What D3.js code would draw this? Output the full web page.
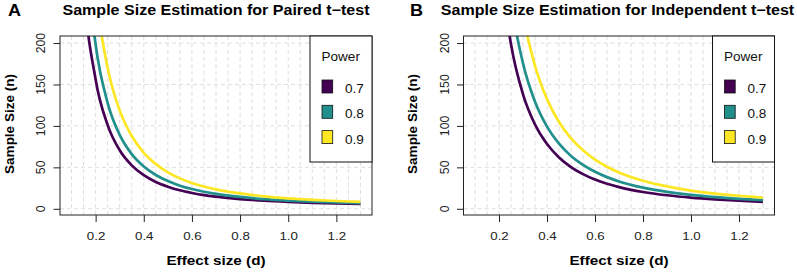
<!DOCTYPE html>
<html>
<head>
  <meta charset="UTF-8">
  <title>Sample size estimation</title>
  <script src="https://d3js.org/d3.v7.min.js"></script>
  <style>
    body { margin: 0; background: white; }
    svg { display: block; font-family: "Liberation Sans", Arial, Helvetica, sans-serif; }
  </style>
</head>
<body>
<svg id="chart"></svg>
<script>
  // values
  let effectSizes = [0.10, 0.15, 0.20, 0.25, 0.30, 0.35, 0.40, 0.45, 0.50, 0.55, 0.60, 0.65, 0.70, 0.80, 0.90, 1.00, 1.10, 1.20, 1.30];
  let powerLevels = ["0.7", "0.8", "0.9"];
  let powerColors = ["#440154", "#21908C", "#FDE725"];

  let pairedN07 = [619, 276, 156, 101, 70.6, 52.4, 40.5, 32.4, 26.7, 22.3, 19.1, 16.5, 14.6, 11.7, 9.7, 8.3, 7.2, 6.4, 5.8];
  let pairedN08 = [787, 351, 198.2, 127.6, 89.1, 65.9, 51.0, 40.8, 33.4, 27.9, 23.8, 20.6, 18.0, 14.3, 11.7, 9.9, 8.6, 7.6, 6.8];
  let pairedN09 = [1053, 469, 264.6, 170, 118.7, 87.8, 67.6, 53.9, 44.0, 36.7, 31.2, 26.9, 23.4, 18.5, 15.0, 12.6, 10.8, 9.4, 8.4];

  let indepN07 = [1235, 550, 309.6, 198.5, 138.1, 101.7, 78.1, 62.0, 50.4, 41.8, 35.2, 30.2, 26.2, 20.3, 16.3, 13.4, 11.3, 9.7, 8.4];
  let indepN08 = [1571, 699, 393.4, 252.1, 175.4, 129.1, 99.1, 78.5, 63.8, 52.9, 44.6, 38.2, 33.0, 25.5, 20.4, 16.7, 14.0, 12.0, 10.4];
  let indepN09 = [2103, 935, 526.3, 337.2, 234.5, 172.5, 132.3, 104.8, 85.0, 70.5, 59.3, 50.7, 43.8, 33.8, 27.0, 22.0, 18.4, 15.7, 13.5];

  let xTicks = [0.2, 0.4, 0.6, 0.8, 1.0, 1.2];
  let yTicks = [0, 50, 100, 150, 200];
  let xGrid = d3.range(0.1, 1.3001, 0.05);

  let width = 797, height = 272;
  let sx = 1.13; // text in the picture is a bit wider than it is tall

  let svg = d3.select("#chart").attr("width", width).attr("height", height);

  function drawPanel(opts) {
    let left = opts.left, right = opts.right, top = 36, bottom = 215;
    let x = d3.scaleLinear().domain([0.052, 1.348]).range([left, right]);
    let y = d3.scaleLinear().domain([-7.5, 208.5]).range([bottom, top]);
    let g = svg.append("g");

    // grid
    g.selectAll(".vgrid").data(xGrid).join("line")
      .attr("x1", d => x(d)).attr("x2", d => x(d))
      .attr("y1", top).attr("y2", bottom)
      .attr("stroke", "#dedede").attr("stroke-dasharray", "4,3");
    g.selectAll(".hgrid").data(yTicks).join("line")
      .attr("x1", left).attr("x2", right)
      .attr("y1", d => y(d)).attr("y2", d => y(d))
      .attr("stroke", "#dedede").attr("stroke-dasharray", "4,3");

    // curves
    let clipId = "clip" + opts.id;
    svg.append("clipPath").attr("id", clipId)
      .append("rect").attr("x", left).attr("y", top)
      .attr("width", right - left).attr("height", bottom - top);

    let line = d3.line()
      .x((d, i) => x(effectSizes[i]))
      .y(d => y(d))
      .curve(d3.curveMonotoneX);

    g.append("g").attr("clip-path", "url(#" + clipId + ")")
      .selectAll("path").data(opts.series).join("path")
      .attr("d", d => line(d))
      .attr("fill", "none")
      .attr("stroke", (d, i) => powerColors[i])
      .attr("stroke-width", 2.7);

    // box
    g.append("rect").attr("x", left).attr("y", top)
      .attr("width", right - left).attr("height", bottom - top)
      .attr("fill", "none").attr("stroke", "#222").attr("stroke-width", 1);

    // axes
    let xAxis = g.append("g").attr("transform", `translate(0,${bottom})`)
      .call(d3.axisBottom(x).tickValues(xTicks).tickFormat(d3.format(".1f")).tickSize(7).tickPadding(10));
    xAxis.select(".domain").remove();
    xAxis.selectAll("line").attr("stroke", "#222");
    xAxis.selectAll("text").attr("font-size", 11.8).attr("fill", "#222")
      .attr("font-family", null).attr("transform", `scale(${sx},1)`);

    let yAxis = g.append("g").attr("transform", `translate(${left},0)`)
      .call(d3.axisLeft(y).tickValues(yTicks).tickSize(6.5));
    yAxis.select(".domain").remove();
    yAxis.selectAll("line").attr("stroke", "#222");
    yAxis.selectAll("text").remove();
    g.selectAll(".ylab").data(yTicks).join("text")
      .attr("transform", d => `translate(${left - 15},${y(d)}) rotate(-90)`)
      .attr("text-anchor", "middle")
      .attr("font-size", 12.3).attr("fill", "#222")
      .text(d => d);

    // axis titles
    g.append("text")
      .attr("transform", `translate(${(left + right) / 2},265) scale(${sx},1)`)
      .attr("text-anchor", "middle").attr("font-size", 13.5).attr("font-weight", "bold")
      .text("Effect size (d)");
    g.append("text")
      .attr("transform", `translate(${left - 46.5},124) rotate(-90)`)
      .attr("text-anchor", "middle").attr("font-size", 13.5).attr("font-weight", "bold")
      .text("Sample Size (n)");

    // title and panel letter
    g.append("text")
      .attr("transform", `translate(${opts.titleX},15) scale(${sx},1)`)
      .attr("text-anchor", "middle").attr("font-size", 14.2).attr("font-weight", "bold")
      .text(opts.title);
    g.append("text")
      .attr("transform", `translate(${opts.letterX},15.5) scale(${sx},1)`)
      .attr("font-size", 16).attr("font-weight", "bold")
      .text(opts.letter);

    // legend
    let lx = right - 62;
    let leg = g.append("g");
    leg.append("rect").attr("x", lx).attr("y", top).attr("width", 62).attr("height", 126)
      .attr("fill", "white").attr("stroke", "#111").attr("stroke-width", 1);
    leg.append("text")
      .attr("transform", `translate(${lx + 11.5},61) scale(${sx},1)`)
      .attr("font-size", 12).attr("fill", "#111").text("Power");
    let rows = leg.selectAll(".row").data(powerLevels).join("g")
      .attr("transform", (d, i) => `translate(${lx},${93 + i * 25.3})`);
    rows.append("rect").attr("x", 12).attr("y", -13).attr("width", 10.7).attr("height", 13)
      .attr("fill", (d, i) => powerColors[i]).attr("stroke", "#111").attr("stroke-width", 0.8);
    rows.append("text")
      .attr("transform", `translate(35,0) scale(${sx},1)`)
      .attr("font-size", 12).attr("fill", "#111").text(d => d);
  }

  drawPanel({
    id: "A", left: 60, right: 372, letter: "A", letterX: 8, titleX: 216,
    title: "Sample Size Estimation for Paired t\u2212test",
    series: [pairedN07, pairedN08, pairedN09]
  });
  drawPanel({
    id: "B", left: 463.5, right: 774.5, letter: "B", letterX: 410, titleX: 617.5,
    title: "Sample Size Estimation for Independent t\u2212test",
    series: [indepN07, indepN08, indepN09]
  });
</script>
</body>
</html>
